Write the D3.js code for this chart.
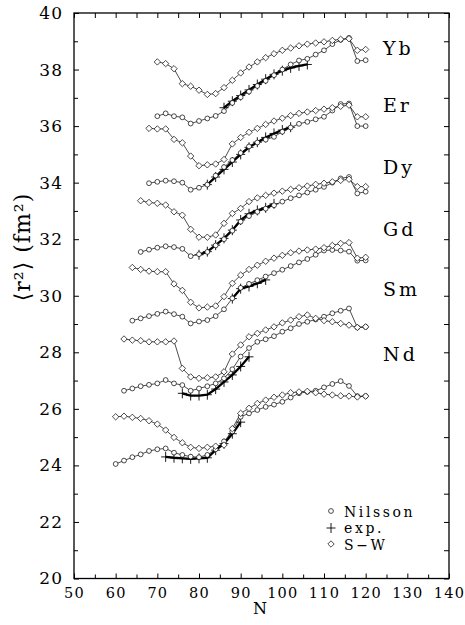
<!DOCTYPE html>
<html><head><meta charset="utf-8">
<script src="https://cdn.jsdelivr.net/npm/d3@7"></script>
<style>body{margin:0;background:#fff}svg{display:block}</style>
</head><body><svg id="c" width="465" height="625"></svg>
<script>
// ---- data ----
const nuclei = ["Yb","Er","Dy","Gd","Sm","Nd"];
const labelY = [38.5, 36.5, 34.3, 32.1, 30.0, 27.7];

const ybN = [70,72,74,76,78,80,82,84,86,88,90,92,94,96,98,100,102,104,106,108,110,112,114,116,118,120];
const ybNilsson = [36.35,36.45,36.35,36.31,36.09,36.18,36.27,36.36,36.53,36.82,37.02,37.22,37.42,37.60,37.80,38.00,38.18,38.32,38.38,38.53,38.68,38.90,39.05,39.12,38.30,38.33];
const ybSW = [38.27,38.21,38.03,37.50,37.41,37.27,37.12,37.15,37.36,37.62,37.88,38.09,38.27,38.42,38.56,38.68,38.76,38.84,38.90,38.94,38.98,39.03,39.07,39.09,38.68,38.71];
const ybExpN = [86,88,90,92,94,96,98,100,102,104,106];
const ybExp = [36.65,36.88,37.08,37.28,37.47,37.66,37.83,37.96,38.06,38.13,38.18];

const erN = [68,70,72,74,76,78,80,82,84,86,88,90,92,94,96,98,100,102,104,106,108,110,112,114,116,118,120];
const erNilsson = [33.98,34.03,34.07,34.05,34.00,33.75,33.82,33.93,34.25,34.55,34.80,35.05,35.28,35.42,35.52,35.62,35.80,35.95,36.08,36.15,36.24,36.33,36.55,36.78,36.80,36.00,36.00];
const erSW = [35.92,35.90,35.90,35.53,35.41,34.94,34.60,34.63,34.66,34.82,35.37,35.60,35.78,35.92,36.06,36.18,36.28,36.37,36.45,36.50,36.55,36.60,36.65,36.70,36.74,36.33,36.33];
const erExpN = [82,84,86,88,90,92,94,96,98,100,102];
const erExp = [33.93,34.20,34.47,34.73,35.00,35.25,35.43,35.60,35.74,35.86,35.96];

const dyN = [66,68,70,72,74,76,78,80,82,84,86,88,90,92,94,96,98,100,102,104,106,108,110,112,114,116,118,120];
const dyNilsson = [31.55,31.63,31.70,31.75,31.72,31.66,31.40,31.47,31.55,31.78,32.00,32.30,32.62,32.82,32.97,33.08,33.20,33.33,33.45,33.55,33.65,33.75,33.85,34.00,34.15,34.20,33.62,33.68];
const dySW = [33.36,33.30,33.27,33.21,32.97,32.85,32.35,32.07,32.07,32.15,32.56,32.91,33.09,33.33,33.46,33.55,33.63,33.70,33.76,33.82,33.88,33.94,33.98,34.03,34.08,34.12,33.86,33.86];
const dyExpN = [80,82,84,86,88,90,92,94,96,98];
const dyExp = [31.45,31.56,31.79,32.03,32.32,32.68,32.90,33.02,33.11,33.25];

const gdN = [64,66,68,70,72,74,76,78,80,82,84,86,88,90,92,94,96,98,100,102,104,106,108,110,112,114,116,118,120];
const gdNilsson = [29.12,29.20,29.28,29.36,29.44,29.35,29.26,29.02,29.09,29.14,29.28,29.52,29.91,30.28,30.42,30.55,30.68,30.80,30.92,31.05,31.18,31.30,31.45,31.60,31.62,31.60,31.56,31.24,31.25];
const gdSW = [31.00,30.93,30.87,30.85,30.85,30.42,30.19,29.77,29.57,29.60,29.64,29.97,30.44,30.73,30.93,31.08,31.22,31.33,31.43,31.52,31.58,31.62,31.65,31.70,31.78,31.85,31.88,31.33,31.36];
const gdExpN = [88,90,92,94,96];
const gdExp = [29.90,30.25,30.33,30.44,30.56];

const smN = [62,64,66,68,70,72,74,76,78,80,82,84,86,88,90,92,94,96,98,100,102,104,106,108,110,112,114,116,118,120];
const smNilsson = [26.64,26.72,26.80,26.85,26.90,27.02,26.90,26.84,26.64,26.72,26.80,26.90,27.08,27.40,27.85,28.15,28.37,28.46,28.57,28.73,28.85,29.00,29.08,29.16,29.26,29.38,29.47,29.55,28.88,28.90];
const smSW = [28.47,28.43,28.41,28.37,28.37,28.37,28.40,27.43,27.13,27.08,27.10,27.13,27.31,27.94,28.26,28.55,28.67,28.79,28.90,29.04,29.14,29.26,29.32,29.20,29.12,29.08,29.02,28.96,28.88,28.90];
const smExpN = [76,78,80,82,84,86,88,90,92];
const smExp = [26.55,26.47,26.47,26.50,26.70,26.95,27.20,27.50,27.84];

const ndN = [60,62,64,66,68,70,72,74,76,78,80,82,84,86,88,90,92,94,96,98,100,102,104,106,108,110,112,114,116,118,120];
const ndNilsson = [24.05,24.17,24.29,24.39,24.51,24.57,24.60,24.45,24.37,24.31,24.29,24.37,24.57,24.85,25.20,25.72,25.84,25.96,26.07,26.15,26.25,26.40,26.55,26.60,26.64,26.76,26.88,26.98,26.81,26.45,26.45];
const ndSW = [25.72,25.74,25.70,25.66,25.58,25.46,25.25,24.99,24.80,24.64,24.60,24.64,24.68,24.72,25.30,25.84,26.02,26.19,26.31,26.41,26.49,26.57,26.60,26.62,26.57,26.52,26.49,26.46,26.45,26.42,26.45];
const ndExpN = [72,74,76,78,80,82,84,86,88,90];
const ndExp = [24.30,24.27,24.25,24.23,24.25,24.27,24.54,24.77,25.12,25.53];

const xMajor = [50,60,70,80,90,100,110,120,130,140];
const xMinor = [55,65,75,85,95,105,115,125,135];
const yMajor = [20,22,24,26,28,30,32,34,36,38,40];
const yMinor = [21,23,25,27,29,31,33,35,37,39];
const legendItems = ["Nilsson","exp.","S\u2212W"];

// ---- build ----
const zip = (a,b) => a.map((v,i)=>[v,b[i]]);
const groups = [
  {n:ybN, nil:ybNilsson, sw:ybSW, en:ybExpN, ex:ybExp},
  {n:erN, nil:erNilsson, sw:erSW, en:erExpN, ex:erExp},
  {n:dyN, nil:dyNilsson, sw:dySW, en:dyExpN, ex:dyExp},
  {n:gdN, nil:gdNilsson, sw:gdSW, en:gdExpN, ex:gdExp},
  {n:smN, nil:smNilsson, sw:smSW, en:smExpN, ex:smExp},
  {n:ndN, nil:ndNilsson, sw:ndSW, en:ndExpN, ex:ndExp}
];

const svg = d3.select("#c");
const FONT = "'DejaVu Serif', serif";
const L = 74, R = 449, T = 13, B = 578.5;
const x = d3.scaleLinear().domain([50,140]).range([L,R]);
const y = d3.scaleLinear().domain([20,40]).range([B,T]);

function styleAxis(g){
  g.select(".domain").remove();
  g.selectAll(".tick line").attr("stroke","#000").attr("stroke-width",1);
}
// bottom
svg.append("g").attr("transform",`translate(0,${B})`)
  .call(d3.axisBottom(x).tickValues(xMajor).tickSize(-5).tickPadding(9).tickFormat(d3.format("d")))
  .call(styleAxis)
  .selectAll("text").attr("font-family",FONT).attr("font-size",14.5).attr("letter-spacing","1.2px").attr("fill","#000");
svg.append("g").attr("transform",`translate(0,${B})`)
  .call(d3.axisBottom(x).tickValues(xMinor).tickSize(-4).tickFormat(""))
  .call(styleAxis);
// top
svg.append("g").attr("transform",`translate(0,${T})`)
  .call(d3.axisTop(x).tickValues(xMajor.concat(xMinor)).tickSize(-5).tickFormat(""))
  .call(styleAxis);
// left
svg.append("g").attr("transform",`translate(${L},0)`)
  .call(d3.axisLeft(y).tickValues(yMajor).tickSize(-5).tickPadding(11).tickFormat(d3.format("d")))
  .call(styleAxis)
  .selectAll("text").attr("font-family",FONT).attr("font-size",17).attr("letter-spacing","1px").attr("fill","#000");
svg.append("g").attr("transform",`translate(${L},0)`)
  .call(d3.axisLeft(y).tickValues(yMinor).tickSize(-4).tickFormat(""))
  .call(styleAxis);
// right
svg.append("g").attr("transform",`translate(${R},0)`)
  .call(d3.axisRight(y).tickValues(yMajor.concat(yMinor)).tickSize(-5).tickFormat(""))
  .call(styleAxis);
// frame
svg.append("rect").attr("x",L).attr("y",T).attr("width",R-L).attr("height",B-T)
  .attr("fill","none").attr("stroke","#000").attr("stroke-width",1.3);

const line = d3.line().x(d=>x(d[0])).y(d=>y(d[1]));
const plot = svg.append("g");
const DIAMOND = "M0,-3.2L3.2,0L0,3.2L-3.2,0Z";
const PLUS = "M-4.5,0H4.5M0,-5V5";

groups.forEach(g=>{
  const nil = zip(g.n,g.nil), sw = zip(g.n,g.sw), ex = zip(g.en,g.ex);
  plot.append("path").attr("d",line(nil)).attr("fill","none").attr("stroke","#000").attr("stroke-width",0.7);
  plot.append("path").attr("d",line(sw)).attr("fill","none").attr("stroke","#000").attr("stroke-width",0.7);
  plot.append("path").attr("d",line(ex)).attr("fill","none").attr("stroke","#000").attr("stroke-width",2.3);
  plot.selectAll(null).data(ex).enter().append("path")
    .attr("d",PLUS)
    .attr("transform",d=>`translate(${x(d[0])},${y(d[1])})`)
    .attr("stroke","#000").attr("stroke-width",0.9);
  plot.selectAll(null).data(nil).enter().append("circle")
    .attr("cx",d=>x(d[0])).attr("cy",d=>y(d[1])).attr("r",2.4)
    .attr("fill","#fff").attr("stroke","#000").attr("stroke-width",0.7);
  plot.selectAll(null).data(sw).enter().append("path")
    .attr("d",DIAMOND).attr("transform",d=>`translate(${x(d[0])},${y(d[1])})`)
    .attr("fill","#fff").attr("stroke","#000").attr("stroke-width",0.7);
});

// nucleus labels
svg.selectAll(null).data(nuclei).enter().append("text")
  .attr("x",383).attr("y",(d,i)=>y(labelY[i]))
  .attr("font-family",FONT).attr("font-size",19).attr("letter-spacing","3px")
  .text(d=>d);

// legend
const lx = 331, ly = [511, 528, 544], ty = [516.5, 533, 550];
svg.append("circle").attr("cx",lx).attr("cy",ly[0]).attr("r",2.4).attr("fill","#fff").attr("stroke","#000").attr("stroke-width",0.7);
svg.append("path").attr("d",PLUS).attr("transform",`translate(${lx},${ly[1]})`).attr("stroke","#000").attr("stroke-width",0.9);
svg.append("path").attr("d",DIAMOND).attr("transform",`translate(${lx},${ly[2]})`).attr("fill","#fff").attr("stroke","#000").attr("stroke-width",0.7);
svg.selectAll(null).data(legendItems).enter().append("text")
  .attr("x",344).attr("y",(d,i)=>ty[i])
  .attr("font-family",FONT).attr("font-size",14).attr("letter-spacing","2.6px")
  .text(d=>d);

// axis titles
svg.append("text").attr("x",260).attr("y",614).attr("text-anchor","middle")
  .attr("font-family",FONT).attr("font-size",16).text("N");
svg.append("text").attr("transform","translate(30,247) rotate(-90)").attr("text-anchor","middle")
  .attr("font-family",FONT).attr("font-size",22).attr("letter-spacing","1px")
  .text("\u27E8r\u00B2\u27E9 (fm\u00B2)");
</script></body></html>
